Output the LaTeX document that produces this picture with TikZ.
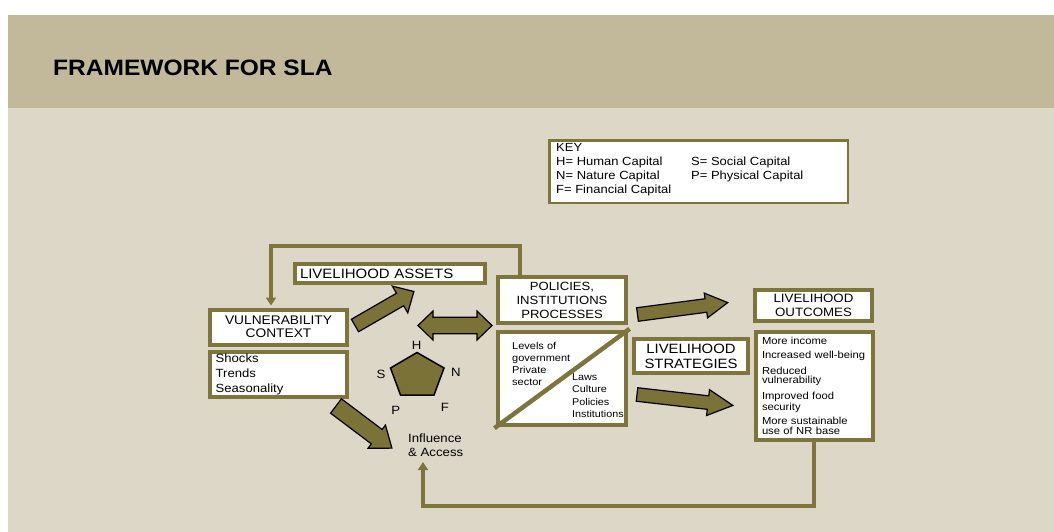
\documentclass[tikz,border=0pt]{standalone}
\usepackage{fontspec}
\setmainfont{Liberation Sans}[FakeStretch=1.1]
\usetikzlibrary{arrows.meta}

\definecolor{bannerbg}{HTML}{C2B99A}
\definecolor{pagebg}{HTML}{DDD7C8}
\definecolor{olive}{RGB}{126,117,60}
\definecolor{olivefill}{RGB}{123,114,55}

\newcommand{\setfs}[2]{\fontsize{#1}{#2}\selectfont}

% wide block arrow: tail point, angle, length, shaft half width, head half width, head length
\newcommand{\blockarrow}[6]{%
  \begin{scope}[shift={(#1)}, rotate=#2]
    \draw[blockarr] (0,#4) -- ({#3-#6},#4) -- ({#3-#6},#5) -- (#3,0)
      -- ({#3-#6},-#5) -- ({#3-#6},-#4) -- (0,-#4) -- cycle;
  \end{scope}}

% two-headed block arrow: centre, length, shaft half width, head half width, head length
\newcommand{\twowayarrow}[5]{%
  \begin{scope}[shift={(#1)}]
    \pgfmathsetmacro\halflen{#2/2}
    \draw[blockarr] (-\halflen,0) -- ({-\halflen+#5},#4) -- ({-\halflen+#5},#3)
      -- ({\halflen-#5},#3) -- ({\halflen-#5},#4) -- (\halflen,0)
      -- ({\halflen-#5},-#4) -- ({\halflen-#5},-#3) -- ({-\halflen+#5},-#3)
      -- ({-\halflen+#5},-#4) -- cycle;
  \end{scope}}

\begin{document}
\begin{tikzpicture}[x=1pt, y=-1pt,
  box/.style={draw=olive, line width=4pt, fill=white, inner sep=0pt, text=black},
  keybox/.style={draw=olive, line width=2.5pt, fill=white, inner sep=0pt},
  label/.style={inner sep=0pt, text=black},
  blockarr/.style={fill=olivefill, draw=black, line width=1.2pt, line join=miter},
  fb/.style={draw=olive, line width=3.5pt, line join=miter,
    -{Triangle[width=10pt,length=8pt]}}]

\useasboundingbox (0,0) rectangle (1054,532);
\fill[white] (0,0) rectangle (1054,532);
\fill[bannerbg] (8,15) rectangle (1054,108);
\fill[pagebg] (8,108) rectangle (1054,532);

% heading
\node[label, anchor=west, font=\bfseries\setfs{22.3}{26}] (title) at (53,68)
  {FRAMEWORK FOR SLA};

% key
\node[keybox, minimum width=298.5pt, minimum height=62.5pt] (key) at (698.5,171.5) {};
\node[label, anchor=north west, align=left, font=\setfs{11.8}{14}] (keytext) at (556,143)
  {KEY\\
   \makebox[135pt][l]{H= Human Capital}S= Social Capital\\
   \makebox[135pt][l]{N= Nature Capital}P= Physical Capital\\
   F= Financial Capital};

% vulnerability context
\node[box, minimum width=137pt, minimum height=35pt, text width=130pt, align=center,
  font=\setfs{12.5}{12.7}] (vc) at (278.5,327) {VULNERABILITY\\CONTEXT};
\node[box, minimum width=137pt, minimum height=45pt, text width=125.6pt, inner xsep=5.7pt,
  align=left, font=\setfs{11.9}{15}] (shocks) at (278.5,374) {Shocks\\Trends\\Seasonality};

% livelihood assets
\node[box, minimum width=190pt, minimum height=19pt, text width=180pt, inner xsep=5pt,
  align=left, font=\setfs{13.6}{16}] (assets) at (390,273.5) {LIVELIHOOD ASSETS};

% policies, institutions, processes
\node[box, minimum width=128pt, minimum height=46pt, text width=124pt, align=center,
  font=\setfs{11.9}{14}] (pip) at (562,300) {POLICIES,\\INSTITUTIONS\\PROCESSES};
\node[box, minimum width=128pt, minimum height=93pt] (pipl) at (562,378.5) {};
\draw[olive, line width=4.5pt, shorten <=-2pt, shorten >=-2pt] (pipl.south west) -- (pipl.north east);
\node[label, anchor=north west, align=left, font=\setfs{10}{11.9}] (levels) at (512,342.5)
  {Levels of\\government\\Private\\sector};
\node[label, anchor=north west, align=left, font=\setfs{9.8}{12.2}] (laws) at (572,373.8)
  {Laws\\Culture\\Policies\\Institutions};

% strategies and outcomes
\node[box, minimum width=114pt, minimum height=34pt, text width=110pt, align=center,
  font=\setfs{13.5}{15}] (strat) at (691,356) {LIVELIHOOD\\STRATEGIES};
\node[box, minimum width=117pt, minimum height=31pt, text width=113pt, align=center,
  font=\setfs{12.1}{13.5}] (outc) at (813.5,305.5) {LIVELIHOOD\\OUTCOMES};
\node[box, minimum width=117pt, minimum height=108pt, text width=105pt, inner xsep=6pt,
  align=left, font=\setfs{10.2}{9.5}] (outl) at (814.5,386)
  {More income\\[4pt]
   Increased well-being\\[5.5pt]
   Reduced\\vulnerability\\[5.5pt]
   Improved food\\security\\[4pt]
   More sustainable\\use of NR base};

% capital pentagon
\draw[fill=olivefill, draw=black, line width=1.5pt, line join=miter]
  (417,352.5) -- (444,368) -- (434,395) -- (400.5,395) -- (390.5,368) -- cycle;
\node[label, font=\setfs{12}{14}] (capH) at (416.7,345) {H};
\node[label, font=\setfs{12}{14}] (capS) at (381,374.3) {S};
\node[label, font=\setfs{12}{14}] (capN) at (456,372.7) {N};
\node[label, font=\setfs{12}{14}] (capP) at (395.7,410) {P};
\node[label, font=\setfs{12}{14}] (capF) at (445,407.3) {F};

\node[label, anchor=north west, align=left, font=\setfs{12}{14}] (infl) at (408,433.5)
  {Influence\\\& Access};

% block arrows
\blockarrow{355,325.5}{30}{68}{7.2}{15.5}{16}
\twowayarrow{455,325.5}{74}{8.3}{14.5}{15}
\blockarrow{637.5,314.5}{7.5}{91}{6.8}{12.5}{22}
\blockarrow{637,394.5}{-6.5}{96.5}{6.8}{13}{25}
\blockarrow{336,406}{-37}{70}{9}{14.5}{19}

% feedback loops
\coordinate (tfR) at (520,246);
\coordinate (tfL) at (271,246);
\draw[fb, shorten >=2pt] (pip.north -| tfR) -- (tfR) -- (tfL) -- (tfL |- vc.north);

\coordinate (bfR) at (814,506);
\coordinate (bfL) at (423,506);
\coordinate (acc) at (423,462);
\draw[fb] (outl.south -| bfR) -- (bfR) -- (bfL) -- (acc);

\end{tikzpicture}
\end{document}
